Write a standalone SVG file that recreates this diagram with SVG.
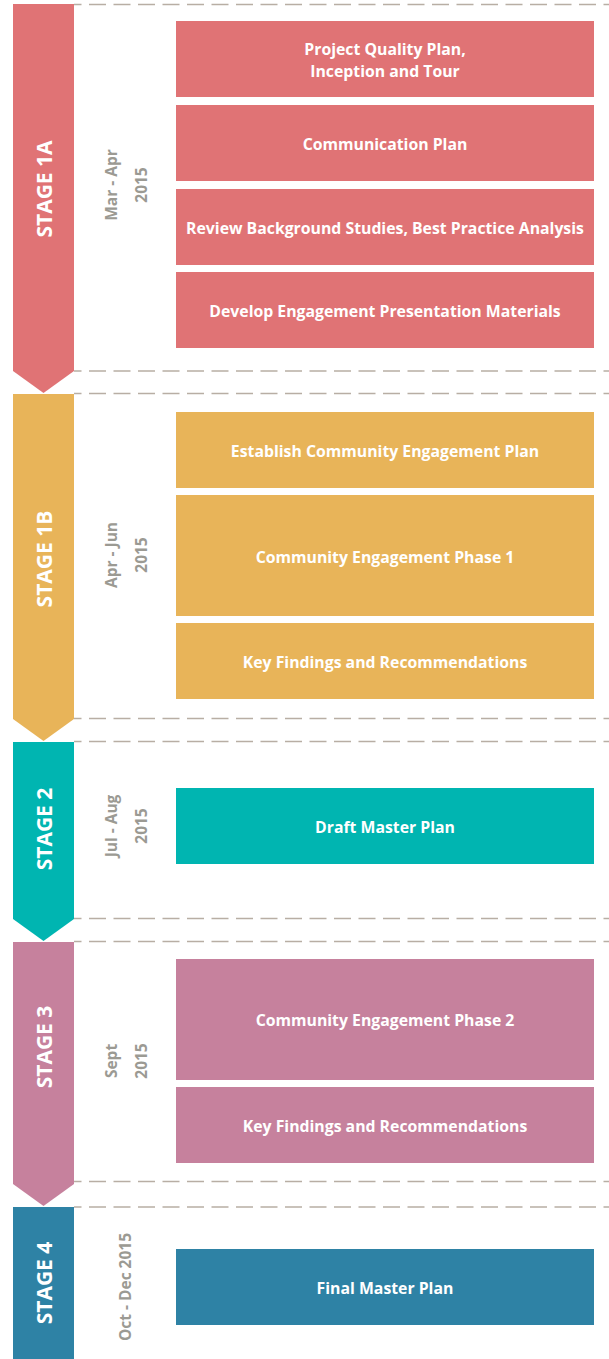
<svg xmlns="http://www.w3.org/2000/svg" width="609" height="1359" viewBox="0 0 609 1359">
<style>
.box text, .lbl { font-family: "Open Sans", "DejaVu Sans", sans-serif; font-weight: 700; fill: #ffffff; text-anchor: middle; }
.box text { font-size: 15.8px; }
.lbl { font-size: 21px; }
.date { font-family: "Open Sans", "DejaVu Sans", sans-serif; font-weight: 700; font-size: 15.5px; fill: #9b9a93; text-anchor: middle; }
.dash { stroke: #b8aea4; stroke-width: 1.3; stroke-dasharray: 17 7.5; stroke-dashoffset: 9.5; fill: none; }
.r { fill: #e07375; } .y { fill: #e8b459; } .t { fill: #00b5b1; } .p { fill: #c6819d; } .b { fill: #2e82a5; }
</style>
<g id="connectors">
<line class="dash" x1="74" y1="4.5" x2="609" y2="4.5"/>
<line class="dash" x1="74" y1="371" x2="609" y2="371"/>
<line class="dash" x1="74" y1="393.5" x2="609" y2="393.5"/>
<line class="dash" x1="74" y1="718.5" x2="609" y2="718.5"/>
<line class="dash" x1="74" y1="741.5" x2="609" y2="741.5"/>
<line class="dash" x1="74" y1="918.5" x2="609" y2="918.5"/>
<line class="dash" x1="74" y1="941.5" x2="609" y2="941.5"/>
<line class="dash" x1="74" y1="1181.5" x2="609" y2="1181.5"/>
<line class="dash" x1="74" y1="1207" x2="609" y2="1207"/>
</g>
<g id="stage1a">
<polygon class="r" points="13,4 74,4 74,371 43.5,393 13,371"/>
<text class="lbl" transform="translate(51.5,189) rotate(-90)">STAGE 1A</text>
<text class="date" transform="translate(117,185) rotate(-90)">Mar - Apr</text>
<text class="date" transform="translate(147,185) rotate(-90)">2015</text>
</g>
<g id="stage1b">
<polygon class="y" points="13,394 74,394 74,719 43.5,741 13,719"/>
<text class="lbl" transform="translate(51.5,559) rotate(-90)">STAGE 1B</text>
<text class="date" transform="translate(117,555) rotate(-90)">Apr - Jun</text>
<text class="date" transform="translate(147,555) rotate(-90)">2015</text>
</g>
<g id="stage2">
<polygon class="t" points="13,742 74,742 74,919 43.5,941 13,919"/>
<text class="lbl" transform="translate(51.5,829) rotate(-90)">STAGE 2</text>
<text class="date" transform="translate(117,826) rotate(-90)">Jul - Aug</text>
<text class="date" transform="translate(147,826) rotate(-90)">2015</text>
</g>
<g id="stage3">
<polygon class="p" points="13,942 74,942 74,1184 43.5,1206 13,1184"/>
<text class="lbl" transform="translate(51.5,1047) rotate(-90)">STAGE 3</text>
<text class="date" transform="translate(117,1061) rotate(-90)">Sept</text>
<text class="date" transform="translate(147,1061) rotate(-90)">2015</text>
</g>
<g id="stage4">
<rect class="b" x="13" y="1207" width="61" height="152"/>
<text class="lbl" transform="translate(51.5,1283) rotate(-90)">STAGE 4</text>
<text class="date" transform="translate(131,1287) rotate(-90)">Oct - Dec 2015</text>
</g>
<g id="box1" class="box"><rect class="r" x="176" y="21" width="418" height="76"/><text x="385" y="55">Project Quality Plan,</text><text x="385" y="77">Inception and Tour</text></g>
<g id="box2" class="box"><rect class="r" x="176" y="105" width="418" height="76"/><text x="385" y="150">Communication Plan</text></g>
<g id="box3" class="box"><rect class="r" x="176" y="189" width="418" height="76"/><text x="385" y="234">Review Background Studies, Best Practice Analysis</text></g>
<g id="box4" class="box"><rect class="r" x="176" y="272" width="418" height="76"/><text x="385" y="317">Develop Engagement Presentation Materials</text></g>
<g id="box5" class="box"><rect class="y" x="176" y="412" width="418" height="76"/><text x="385" y="457">Establish Community Engagement Plan</text></g>
<g id="box6" class="box"><rect class="y" x="176" y="495" width="418" height="121"/><text x="385" y="563">Community Engagement Phase 1</text></g>
<g id="box7" class="box"><rect class="y" x="176" y="623" width="418" height="76"/><text x="385" y="668">Key Findings and Recommendations</text></g>
<g id="box8" class="box"><rect class="t" x="176" y="788" width="418" height="76"/><text x="385" y="833">Draft Master Plan</text></g>
<g id="box9" class="box"><rect class="p" x="176" y="959" width="418" height="121"/><text x="385" y="1026">Community Engagement Phase 2</text></g>
<g id="box10" class="box"><rect class="p" x="176" y="1087" width="418" height="76"/><text x="385" y="1132">Key Findings and Recommendations</text></g>
<g id="box11" class="box"><rect class="b" x="176" y="1249" width="418" height="76"/><text x="385" y="1294">Final Master Plan</text></g>
</svg>
